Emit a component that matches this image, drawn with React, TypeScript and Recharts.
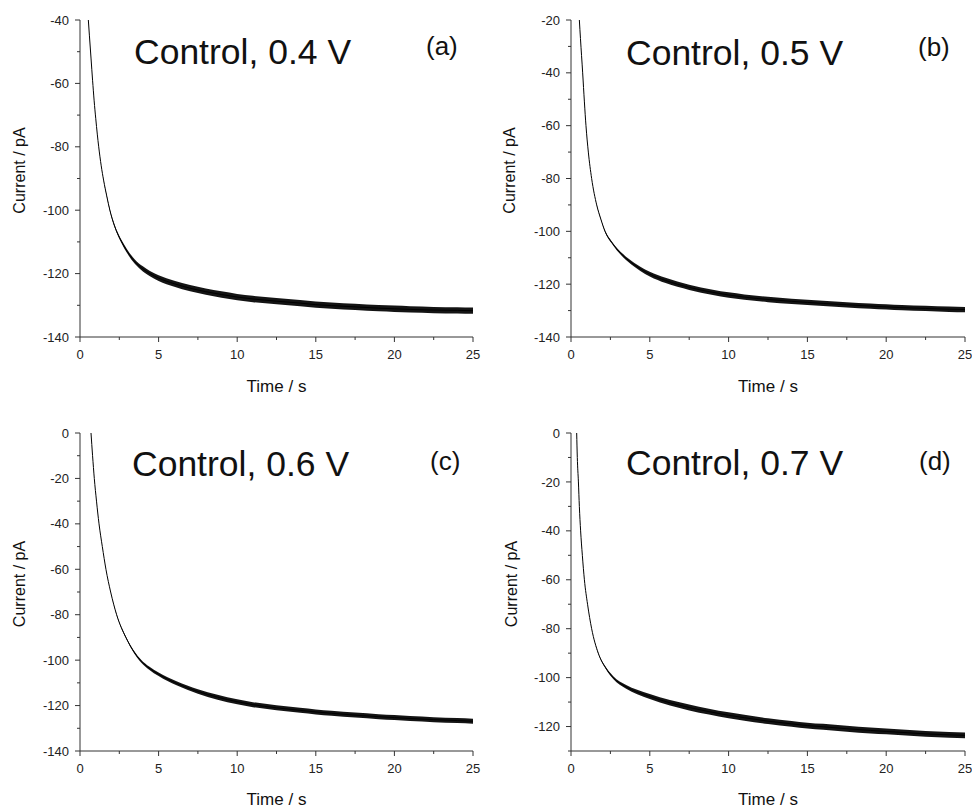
import React from 'react';
import { ComposedChart, Line, Area, XAxis, YAxis } from 'recharts';

// ---------- data ----------
const TIME_A = [0.53, 0.6, 0.7, 0.8, 0.9, 1.0, 1.1, 1.19, 1.35, 1.5, 1.7, 1.9, 2.2, 2.65, 3, 3.5, 4, 4.45, 5, 6, 7, 8, 9, 10, 11, 12.5, 14, 15, 16, 17.5, 19, 20, 21, 22.5, 24, 25];
const CURRENT_A = [-40, -45, -52, -59, -65.5, -71, -76, -80, -86, -90.5, -95.5, -100, -105, -110, -113, -116.3, -118.5, -120, -121.4, -123.2, -124.6, -125.7, -126.6, -127.4, -128, -128.7, -129.3, -129.8, -130.1, -130.5, -130.9, -131.1, -131.3, -131.5, -131.6, -131.7];
const NOISE_A = [0, 0, 0, 0, 0, 0, 0, 0, 0, 0.1, 0.2, 0.3, 0.4, 0.5, 0.6, 0.7, 0.8, 0.85, 0.9, 0.95, 1, 1, 1, 1, 1, 1, 1, 1, 1, 1, 1, 1, 1, 1, 1, 1];

const TIME_B = [0.53, 0.6, 0.74, 0.85, 0.95, 1.1, 1.31, 1.63, 1.9, 2.16, 2.6, 3.32, 4, 4.4, 5, 6, 7.5, 9, 10, 11, 12.5, 14, 15, 16, 17.5, 19, 20, 21, 22.5, 24, 25];
const CURRENT_B = [-20, -27, -40, -51, -60, -70, -80, -90, -95.5, -100, -104.3, -109.3, -112.6, -114.2, -116.2, -118.6, -121.2, -123.1, -124.1, -124.9, -125.8, -126.5, -126.9, -127.3, -127.8, -128.3, -128.6, -128.9, -129.2, -129.5, -129.6];
const NOISE_B = [0, 0, 0, 0, 0, 0, 0, 0.1, 0.2, 0.3, 0.4, 0.6, 0.7, 0.8, 0.9, 1, 1, 1, 1, 1, 1, 1, 1, 1, 1, 1, 1, 1, 1, 1, 1];

const TIME_C = [0.7, 0.8, 0.91, 1.05, 1.21, 1.42, 1.65, 1.95, 2.33, 2.92, 3.4, 3.9, 4.4, 5, 6.14, 7.5, 8.75, 10, 11, 12.5, 14, 15, 16, 17.5, 19, 20, 21, 22.5, 24, 25];
const CURRENT_C = [0, -10, -20, -30, -40, -50, -60, -70, -80, -90, -96, -100.5, -103.5, -106.2, -110.2, -113.8, -116.3, -118.3, -119.6, -121, -122.1, -122.8, -123.4, -124.2, -124.9, -125.3, -125.7, -126.2, -126.6, -126.9];
const NOISE_C = [0, 0, 0, 0, 0, 0, 0, 0, 0.2, 0.4, 0.5, 0.6, 0.7, 0.8, 0.9, 1, 1.1, 1.1, 1.1, 1.1, 1.1, 1.1, 1.1, 1.1, 1.1, 1.1, 1.1, 1.1, 1.1, 1.1];

const TIME_D = [0.36, 0.4, 0.47, 0.53, 0.61, 0.72, 0.85, 1.05, 1.31, 1.73, 2.2, 2.68, 3.5, 4.2, 5, 6.28, 7.5, 8.75, 10, 11, 12.5, 14, 15, 16, 17.5, 19, 20, 21, 22.5, 24, 25];
const CURRENT_D = [0, -10, -20, -30, -40, -50, -60, -70, -80, -90, -96, -100, -103.8, -105.9, -107.7, -110.3, -112.2, -113.9, -115.4, -116.4, -117.8, -118.9, -119.6, -120.1, -120.9, -121.6, -122, -122.4, -123, -123.4, -123.6];
const NOISE_D = [0, 0, 0, 0, 0, 0, 0, 0, 0, 0.2, 0.4, 0.6, 0.8, 0.9, 1, 1.1, 1.2, 1.2, 1.2, 1.2, 1.2, 1.2, 1.2, 1.2, 1.2, 1.2, 1.2, 1.2, 1.2, 1.2, 1.2];

const X_TICKS = [0, 5, 10, 15, 20, 25];
const X_MINOR = [2.5, 7.5, 12.5, 17.5, 22.5];
const Y_TICKS_A = [-140, -120, -100, -80, -60, -40];
const Y_MINOR_A = [-130, -110, -90, -70, -50];
const Y_TICKS_B = [-140, -120, -100, -80, -60, -40, -20];
const Y_MINOR_B = [-130, -110, -90, -70, -50, -30];
const Y_TICKS_C = [-140, -120, -100, -80, -60, -40, -20, 0];
const Y_MINOR_C = [-130, -110, -90, -70, -50, -30, -10];
const Y_TICKS_D = [-120, -100, -80, -60, -40, -20, 0];
const Y_MINOR_D = [-130, -110, -90, -70, -50, -30, -10];

const TITLES = ['Control, 0.4 V', 'Control, 0.5 V', 'Control, 0.6 V', 'Control, 0.7 V'];
const LETTERS = ['(a)', '(b)', '(c)', '(d)'];
const X_LABEL = 'Time / s';
const Y_LABEL = 'Current / pA';

// ---------- layout ----------
const FONT = '"Liberation Sans", Arial, Helvetica, sans-serif';
const AXIS_COLOR = '#333';
const TICK_SIZE = 5;
const MINOR_SIZE = 3;
const TICK_MARGIN_X = 8;
const TICK_MARGIN_Y = 6;

const buildRows = (t: number[], v: number[], n: number[]) =>
  t.map((time, i) => ({ t: time, v: v[i], band: [v[i] - n[i], v[i] + n[i]] }));

const PANELS = [
  {
    rows: buildRows(TIME_A, CURRENT_A, NOISE_A), yDomain: [-140, -40], yTicks: Y_TICKS_A, yMinor: Y_MINOR_A,
    left: 0, top: 0, marginTop: 20, marginRight: 13, yAxisWidth: 80, xAxisHeight: 68,
    yLabelX: 19, xLabelBottom: 13,
    title: { x: 134, y: 64 }, letter: { x: 426, y: 55 },
  },
  {
    rows: buildRows(TIME_B, CURRENT_B, NOISE_B), yDomain: [-140, -20], yTicks: Y_TICKS_B, yMinor: Y_MINOR_B,
    left: 486, top: 0, marginTop: 20, marginRight: 7, yAxisWidth: 85, xAxisHeight: 68,
    yLabelX: 23, xLabelBottom: 13,
    title: { x: 626, y: 65 }, letter: { x: 918, y: 56 },
  },
  {
    rows: buildRows(TIME_C, CURRENT_C, NOISE_C), yDomain: [-140, 0], yTicks: Y_TICKS_C, yMinor: Y_MINOR_C,
    left: 0, top: 405, marginTop: 28, marginRight: 13, yAxisWidth: 80, xAxisHeight: 59,
    yLabelX: 19, xLabelBottom: 5,
    title: { x: 132, y: 476 }, letter: { x: 430, y: 470 },
  },
  {
    rows: buildRows(TIME_D, CURRENT_D, NOISE_D), yDomain: [-130, 0], yTicks: Y_TICKS_D, yMinor: Y_MINOR_D,
    left: 486, top: 405, marginTop: 28, marginRight: 7, yAxisWidth: 85, xAxisHeight: 59,
    yLabelX: 25, xLabelBottom: 5,
    title: { x: 626, y: 475 }, letter: { x: 919, y: 470 },
  },
];

function makeXTick(majors: number[]) {
  return (props: any) => {
    const { x, y, payload } = props;
    const isMajor = majors.indexOf(payload.value) >= 0;
    const axisY = y - TICK_SIZE - TICK_MARGIN_X;
    return (
      <g>
        <line x1={x} x2={x} y1={axisY} y2={axisY + (isMajor ? TICK_SIZE : MINOR_SIZE)} stroke={AXIS_COLOR} strokeWidth={1} />
        {isMajor && (
          <text x={x} y={y} dy="0.71em" textAnchor="middle" fontSize={13} fill="#222" fontFamily={FONT}>{payload.value}</text>
        )}
      </g>
    );
  };
}

function makeYTick(majors: number[]) {
  return (props: any) => {
    const { x, y, payload } = props;
    const isMajor = majors.indexOf(payload.value) >= 0;
    const axisX = x + TICK_SIZE + TICK_MARGIN_Y;
    return (
      <g>
        <line x1={axisX - (isMajor ? TICK_SIZE : MINOR_SIZE)} x2={axisX} y1={y} y2={y} stroke={AXIS_COLOR} strokeWidth={1} />
        {isMajor && (
          <text x={x} y={y} dy="0.355em" textAnchor="end" fontSize={13} fill="#222" fontFamily={FONT}>{payload.value}</text>
        )}
      </g>
    );
  };
}

function Panel({ p }: { p: any }) {
  const yLabel = (props: any) => {
    const vb = props.viewBox || {};
    const cx = (vb.x || 0) + p.yLabelX;
    const cy = (vb.y || 0) + (vb.height || 0) / 2 - 8;
    return (
      <text x={cx} y={cy} transform={`rotate(-90, ${cx}, ${cy})`} textAnchor="middle" dominantBaseline="central"
        fontSize={16} fill="#111" fontFamily={FONT}>{Y_LABEL}</text>
    );
  };
  const xLabel = (props: any) => {
    const vb = props.viewBox || {};
    const cx = (vb.x || 0) + (vb.width || 0) / 2;
    const by = (vb.y || 0) + (vb.height || 0) - p.xLabelBottom;
    return (
      <text x={cx} y={by} textAnchor="middle" fontSize={17} fill="#111" fontFamily={FONT}>{X_LABEL}</text>
    );
  };
  const xAll = [...X_TICKS, ...X_MINOR].sort((a, b) => a - b);
  const yAll = [...p.yTicks, ...p.yMinor].sort((a: number, b: number) => a - b);
  return (
    <div style={{ position: 'absolute', left: p.left, top: p.top, width: 486, height: 405 }}>
      <ComposedChart width={486} height={405} data={p.rows}
        margin={{ top: p.marginTop, right: p.marginRight, left: 0, bottom: 0 }}>
        <XAxis type="number" dataKey="t" domain={[0, 25]} ticks={xAll} allowDataOverflow interval={0}
          height={p.xAxisHeight} tickSize={TICK_SIZE} tickMargin={TICK_MARGIN_X} tick={makeXTick(X_TICKS)}
          axisLine={{ stroke: AXIS_COLOR }} tickLine={false} label={{ content: xLabel }} />
        <YAxis type="number" domain={p.yDomain} ticks={yAll} allowDataOverflow interval={0}
          width={p.yAxisWidth} tickSize={TICK_SIZE} tickMargin={TICK_MARGIN_Y} tick={makeYTick(p.yTicks)}
          axisLine={{ stroke: AXIS_COLOR }} tickLine={false} label={{ content: yLabel }} />
        <Area type="monotone" dataKey="band" fill="#000" fillOpacity={0.92} stroke="none"
          isAnimationActive={false} activeDot={false} />
        <Line type="monotone" dataKey="v" stroke="#000" strokeWidth={1} dot={false}
          isAnimationActive={false} activeDot={false} />
      </ComposedChart>
    </div>
  );
}

export default function App() {
  return (
    <div style={{ position: 'absolute', left: 0, top: 0, width: 972, height: 810, background: '#fff', overflow: 'hidden' }}>
      {PANELS.map((p, i) => <Panel key={i} p={p} />)}
      <svg width={972} height={810} style={{ position: 'absolute', left: 0, top: 0, pointerEvents: 'none' }}>
        {PANELS.map((p, i) => (
          <g key={i}>
            <text x={p.title.x} y={p.title.y} fontSize={35.5} fill="#111" fontFamily={FONT}>{TITLES[i]}</text>
            <text x={p.letter.x} y={p.letter.y} fontSize={26} fill="#111" fontFamily={FONT}>{LETTERS[i]}</text>
          </g>
        ))}
      </svg>
    </div>
  );
}
